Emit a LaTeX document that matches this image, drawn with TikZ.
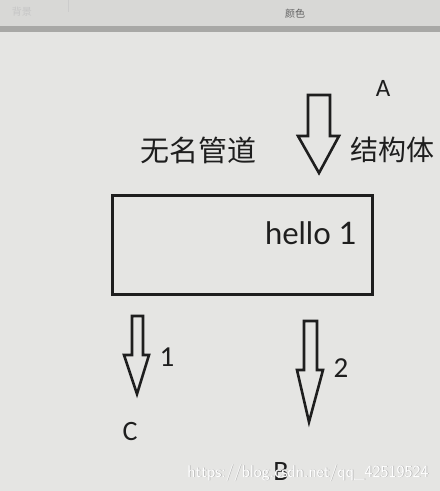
\documentclass[tikz,border=0pt]{standalone}
\usepackage{fontspec}
\setmainfont{Carlito}
\newfontfamily\cjk{Noto Sans CJK SC}
\newfontfamily\lato{Lato}
\definecolor{bg}{HTML}{E5E5E3}
\definecolor{barbg}{HTML}{D8D8D6}
\definecolor{barline}{HTML}{A8A8A6}
\definecolor{ink}{HTML}{1E1E1E}
\begin{document}
\begin{tikzpicture}[x=1pt,y=-1pt,
  blockarrow/.style={draw=ink,line width=2.6pt,line join=miter},
  lbl/.style={text=ink,inner sep=0pt,anchor=center},
  cjklbl/.style={lbl,font=\cjk\fontsize{29}{29}\selectfont},
  ltr/.style={lbl,font=\fontsize{26}{26}\selectfont}]
\useasboundingbox (0,0) rectangle (440,491);
\fill[bg] (0,0) rectangle (440,491);
\fill[barbg] (0,0) rectangle (440,27);
\fill[barline] (0,26) rectangle (440,32);
\draw[gray!40,line width=0.6pt] (68,0) -- (68,12);
\node[lbl,text=gray!45,font=\cjk\fontsize{10}{10}\selectfont] (tbg) at (22,12) {背景};
\node[lbl,text=gray!75!black,font=\cjk\fontsize{10}{10}\selectfont] (tcol) at (295,14) {颜色};
% labels
\node[ltr,font=\fontsize{25}{25}\selectfont] (A) at (383,88) {A};
\node[cjklbl] (nm) at (198,150) {无名管道};
\node[cjklbl,font=\cjk\fontsize{28}{28}\selectfont] (jg) at (392,150) {结构体};
% box
\node[draw=ink,line width=3pt,minimum width=260pt,minimum height=99pt,inner sep=0pt] (box) at (242.5,245) {};
\node[lbl,anchor=east,font=\lato\fontsize{31}{31}\selectfont] (hello) at (357,233) {hello 1};
% top arrow
\draw[blockarrow] (308,95) -- (330,95) -- (330,136) -- (339,136) -- (319,173) -- (298,136) -- (308,136) -- cycle;
% arrow 1
\draw[blockarrow] (132,316) -- (143,316) -- (143,355) -- (149,355) -- (137,394) -- (124,355) -- (132,355) -- cycle;
% arrow 2
\draw[blockarrow] (304,321) -- (317,321) -- (317,370) -- (323,370) -- (309,422) -- (297,370) -- (304,370) -- cycle;
\node[ltr,font=\fontsize{29}{29}\selectfont] (one) at (167,357) {1};
\node[ltr,font=\fontsize{29}{29}\selectfont] (two) at (341,368) {2};
\node[ltr,font=\fontsize{28}{28}\selectfont] (C) at (130,432) {C};
\node[ltr,font=\fontsize{28}{28}\selectfont] (B) at (281,472) {B};
% watermark
\node[lbl,text=gray!60,font=\fontsize{17}{17}\selectfont\sffamily] at (308.7,473.7) {https://blog.csdn.net/qq\_42519524};
\node[lbl,text=white,font=\fontsize{17}{17}\selectfont\sffamily] (wm) at (308,473) {https://blog.csdn.net/qq\_42519524};
\end{tikzpicture}
\end{document}
